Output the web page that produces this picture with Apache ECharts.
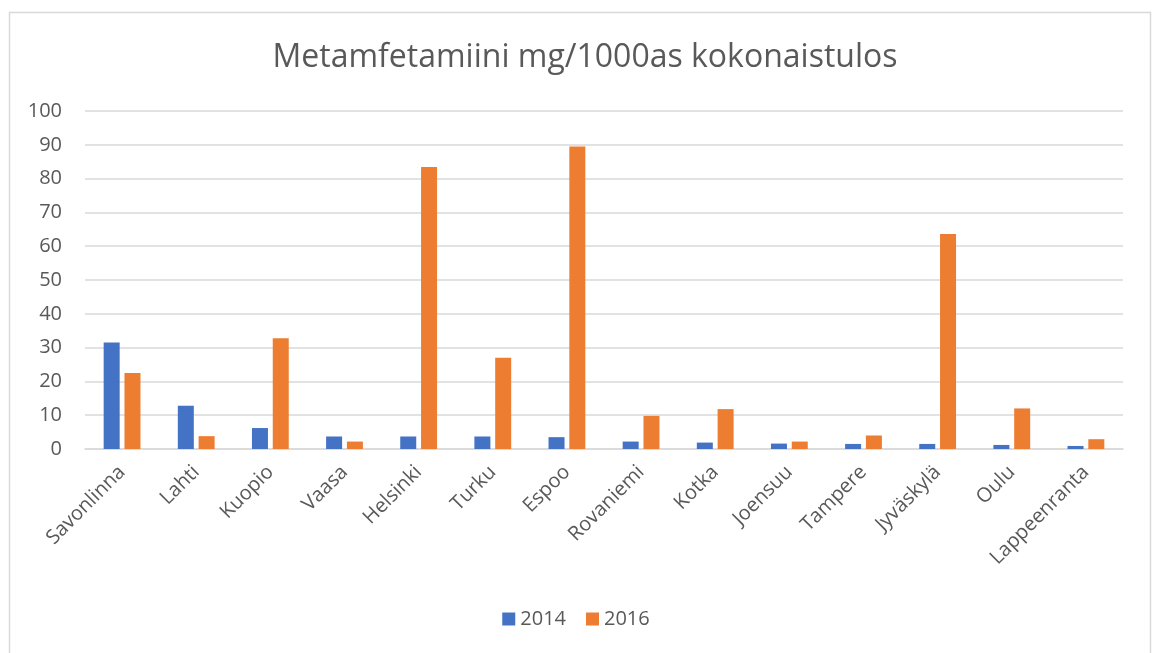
<!DOCTYPE html>
<html>
<head>
<meta charset="utf-8">
<style>
  html, body { margin: 0; padding: 0; background: #fff; }
  #main { width: 1152px; height: 653px; }
</style>
</head>
<body>
<div id="main"></div>
<script src="https://cdn.jsdelivr.net/npm/echarts@6/dist/echarts.min.js"></script>
<script>
    var cities = ['Savonlinna', 'Lahti', 'Kuopio', 'Vaasa', 'Helsinki', 'Turku', 'Espoo',
        'Rovaniemi', 'Kotka', 'Joensuu', 'Tampere', 'Jyväskylä', 'Oulu', 'Lappeenranta'];
    var v2014 = [31.5, 12.8, 6.2, 3.7, 3.7, 3.7, 3.5, 2.2, 1.9, 1.6, 1.5, 1.5, 1.2, 0.9];
    var v2016 = [22.5, 3.8, 32.8, 2.2, 83.4, 27.0, 89.5, 9.8, 11.8, 2.2, 4.0, 63.6, 12.0, 2.9];
    var yTicks = [0, 10, 20, 30, 40, 50, 60, 70, 80, 90, 100];

    var myChart = echarts.init(document.getElementById('main'));
    var font = '"Open Sans", sans-serif';

    option = {
        backgroundColor: '#fff',
        textStyle: { fontFamily: font },
        graphic: [{
            type: 'rect',
            shape: { x: 9.5, y: 12.5, width: 1141, height: 660 },
            style: { fill: 'none', stroke: '#d9d9d9', lineWidth: 1.5 },
            silent: true
        }],
        title: {
            text: 'Metamfetamiini mg/1000as kokonaistulos',
            left: 580,
            textAlign: 'center',
            top: 37,
            textStyle: { fontFamily: font, fontSize: 32, fontWeight: 'normal', color: '#595959' }
        },
        legend: {
            data: ['2014', '2016'],
            bottom: 19,
            left: 'center',
            itemWidth: 13,
            itemHeight: 13,
            itemGap: 20,
            icon: 'rect',
            textStyle: { fontFamily: font, fontSize: 20, color: '#595959' }
        },
        grid: { left: 85, right: 29, top: 111, bottom: 204 },
        xAxis: {
            type: 'category',
            data: cities,
            axisLine: { lineStyle: { color: '#d9d9d9', width: 1.5 } },
            axisTick: { show: false },
            axisLabel: {
                rotate: 45,
                interval: 0,
                margin: 20,
                fontFamily: font,
                fontSize: 20,
                color: '#595959'
            }
        },
        yAxis: {
            type: 'value',
            min: yTicks[0],
            max: yTicks[yTicks.length - 1],
            interval: 10,
            axisLine: { show: false },
            axisTick: { show: false },
            splitLine: { lineStyle: { color: '#d9d9d9', width: 1.5 } },
            axisLabel: {
                margin: 23,
                fontFamily: font,
                fontSize: 20,
                color: '#595959'
            }
        },
        series: [
            {
                name: '2014',
                type: 'bar',
                data: v2014,
                barWidth: 16,
                barGap: '30%',
                itemStyle: { color: '#4472c4' }
            },
            {
                name: '2016',
                type: 'bar',
                data: v2016,
                barWidth: 16,
                itemStyle: { color: '#ed7d31' }
            }
        ]
    };

    myChart.setOption(option);
</script>
</body>
</html>
